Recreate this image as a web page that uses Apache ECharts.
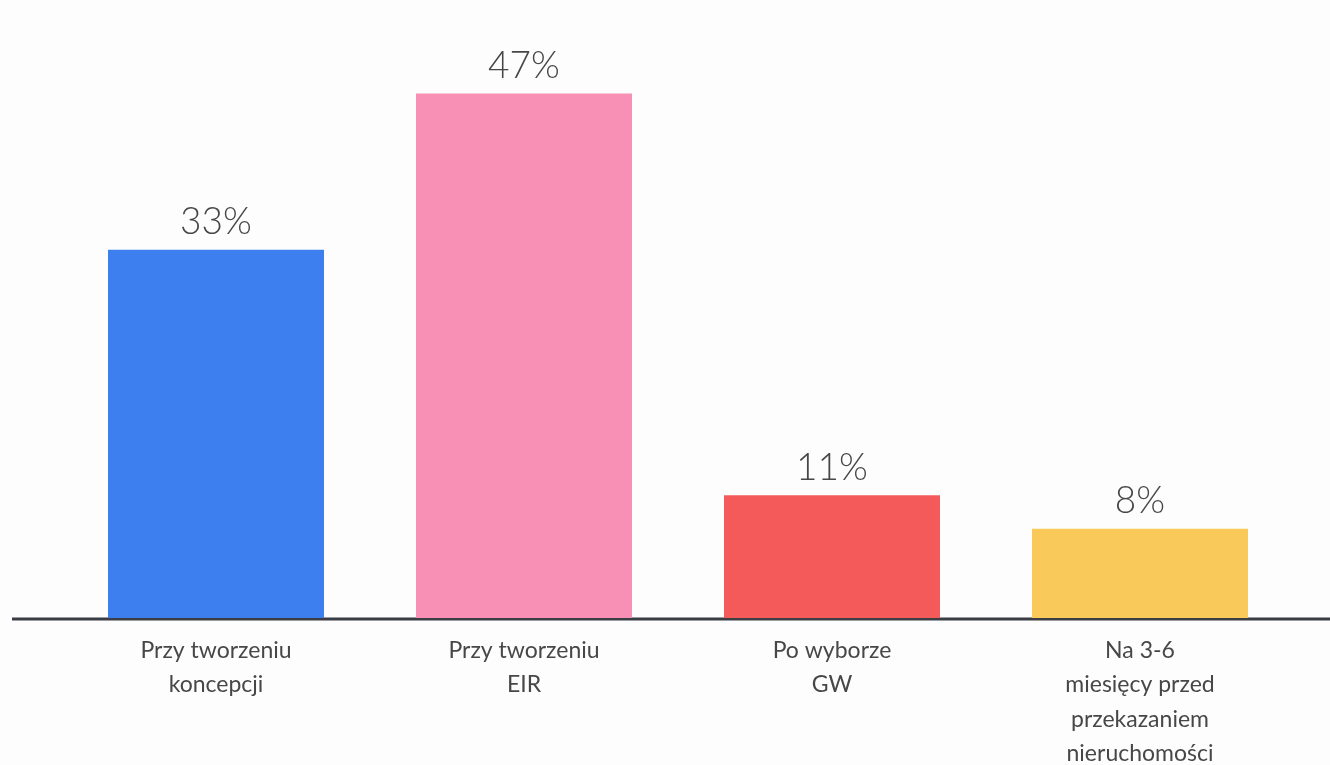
<!DOCTYPE html>
<html>
<head>
<meta charset="utf-8">
<script src="https://cdn.jsdelivr.net/npm/echarts@6/dist/echarts.min.js"></script>
<style>
  html, body { margin: 0; padding: 0; background: #fdfdfd; }
  #main { width: 1330px; height: 765px; }
</style>
</head>
<body>
<div id="main"></div>
<script>
// dane wykresu
var categories = ['Przy tworzeniu\nkoncepcji', 'Przy tworzeniu\nEIR', 'Po wyborze\nGW', 'Na 3-6\nmiesięcy przed\nprzekazaniem\nnieruchomości'];
var values = [33, 47, 11, 8];
var barColors = ['#3e7ff0', '#f790b4', '#f45a5a', '#f9ca5a'];

var myChart = echarts.init(document.getElementById('main'));

var option = {
    backgroundColor: '#fdfdfd',
    grid: {
        left: 62,
        width: 1232,
        top: 60,
        height: 558,
        outerBoundsMode: 'none'
    },
    xAxis: {
        type: 'category',
        data: categories,
        axisLine: { show: false },
        axisTick: { show: false },
        axisLabel: {
            interval: 0,
            margin: 15,
            color: '#474747',
            fontFamily: 'Lato',
            fontSize: 23,
            lineHeight: 34.5
        }
    },
    yAxis: {
        type: 'value',
        min: 0,
        max: 50,
        show: false,
        splitLine: { show: false }
    },
    series: [
        {
            type: 'bar',
            barWidth: 216,
            data: values.map(function (v, i) {
                return { value: v, itemStyle: { color: barColors[i] } };
            }),
            label: {
                show: true,
                position: 'top',
                distance: 9,
                formatter: '{c}%',
                color: '#474747',
                fontFamily: 'Lato',
                fontWeight: 300,
                fontSize: 37
            }
        }
    ],
    graphic: [
        {
            type: 'line',
            shape: { x1: 12, y1: 619, x2: 1330, y2: 619 },
            style: { stroke: '#3a3d44', lineWidth: 3 }
        }
    ]
};

myChart.setOption(option);
</script>
</body>
</html>
